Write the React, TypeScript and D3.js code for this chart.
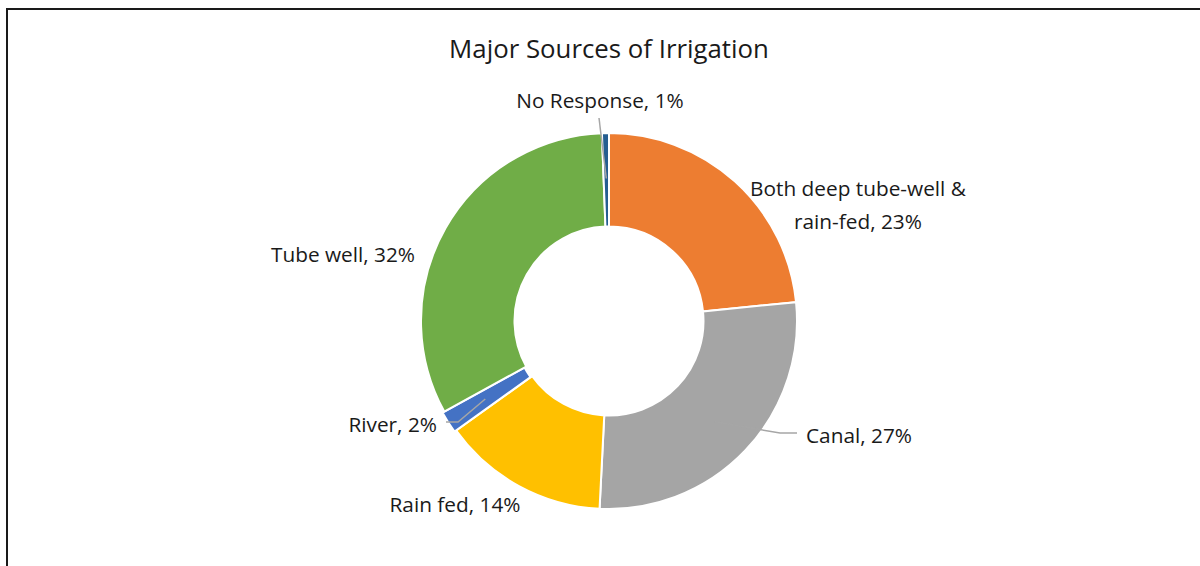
import { useEffect, useRef } from "react";
import * as d3 from "d3";

const categories = [
  "Both deep tube-well & rain-fed",
  "Canal",
  "Rain fed",
  "River",
  "Tube well",
  "No Response",
];
const shares = [23.4, 27.4, 14.3, 1.9, 32.4, 0.6];
const colors = ["#ED7D31", "#A5A5A5", "#FFC000", "#4472C4", "#70AD47", "#255E91"];

// label lines (split where the label wraps), offsets from donut centre, anchor
const labelLines = [
  ["Both deep tube-well &", "rain-fed, 23%"],
  ["Canal, 27%"],
  ["Rain fed, 14%"],
  ["River, 2%"],
  ["Tube well, 32%"],
  ["No Response, 1%"],
];
const labelPos = [
  { dx: 249, dy: -125, anchor: "middle" },
  { dx: 197, dy: 122, anchor: "start" },
  { dx: -154, dy: 191, anchor: "middle" },
  { dx: -172, dy: 111, anchor: "end" },
  { dx: -266, dy: -59, anchor: "middle" },
  { dx: -9, dy: -213, anchor: "middle" },
];
// leader lines: [elbow, end] offsets from centre; null = no leader
const leaders: ([number, number][] | null)[] = [
  null,
  [[171, 112], [188, 112]],
  null,
  [[-151, 101], [-163, 101]],
  null,
  [[-10, -203]],
];

const W = 1200;
const H = 566;
const FONT = "'Open Sans', Lato, sans-serif";

export default function App() {
  const ref = useRef<SVGSVGElement>(null);

  useEffect(() => {
    const svg = d3.select(ref.current);
    svg.selectAll("*").remove();

    svg.append("rect")
      .attr("x", 7)
      .attr("y", 9)
      .attr("width", W + 20)
      .attr("height", H + 20)
      .attr("fill", "white")
      .attr("stroke", "#1a1a1a")
      .attr("stroke-width", 2);

    svg.append("text")
      .attr("x", 609)
      .attr("y", 58)
      .attr("text-anchor", "middle")
      .style("font-family", FONT)
      .style("font-size", "25.8px")
      .style("fill", "#1a1a1a")
      .text("Major Sources of Irrigation");

    const cx = 609;
    const cy = 321;
    const outer = 188;
    const inner = 94.5;

    const g = svg.append("g").attr("transform", `translate(${cx},${cy})`);

    const pie = d3.pie<number>().sort(null).value(d => d)(shares);
    const arc = d3.arc<d3.PieArcDatum<number>>().innerRadius(inner).outerRadius(outer);

    g.selectAll("path")
      .data(pie)
      .join("path")
      .attr("d", arc)
      .attr("fill", (_, i) => colors[i])
      .attr("stroke", "white")
      .attr("stroke-width", 2)
      .attr("transform", (d, i) => {
        if (categories[i] !== "River") return null;
        const mid = (d.startAngle + d.endAngle) / 2;
        return `translate(${Math.sin(mid) * 2},${-Math.cos(mid) * 2})`;
      });

    // leader lines from slice centroid
    pie.forEach((d, i) => {
      const pts = leaders[i];
      if (!pts) return;
      const mid = (d.startAngle + d.endAngle) / 2;
      const r = (inner + outer) / 2;
      const start: [number, number] =
        categories[i] === "No Response"
          ? [Math.sin(mid) * (inner + 48), -Math.cos(mid) * (inner + 48)]
          : [Math.sin(mid) * (r + 5), -Math.cos(mid) * (r + 5)];
      g.append("path")
        .attr("d", d3.line()([start, ...pts]))
        .attr("fill", "none")
        .attr("stroke", "#A6A6A6")
        .attr("stroke-width", 1.5);
    });

    labelLines.forEach((lines, i) => {
      const p = labelPos[i];
      const t = g.append("text")
        .attr("text-anchor", p.anchor)
        .style("font-family", FONT)
        .style("font-size", "20.8px")
        .style("fill", "#1a1a1a");
      lines.forEach((line, j) => {
        t.append("tspan")
          .attr("x", p.dx)
          .attr("y", p.dy + j * 33)
          .text(line);
      });
    });
  }, []);

  return (
    <svg
      ref={ref}
      width={W}
      height={H}
      style={{ position: "absolute", left: 0, top: 0, background: "white" }}
    />
  );
}
